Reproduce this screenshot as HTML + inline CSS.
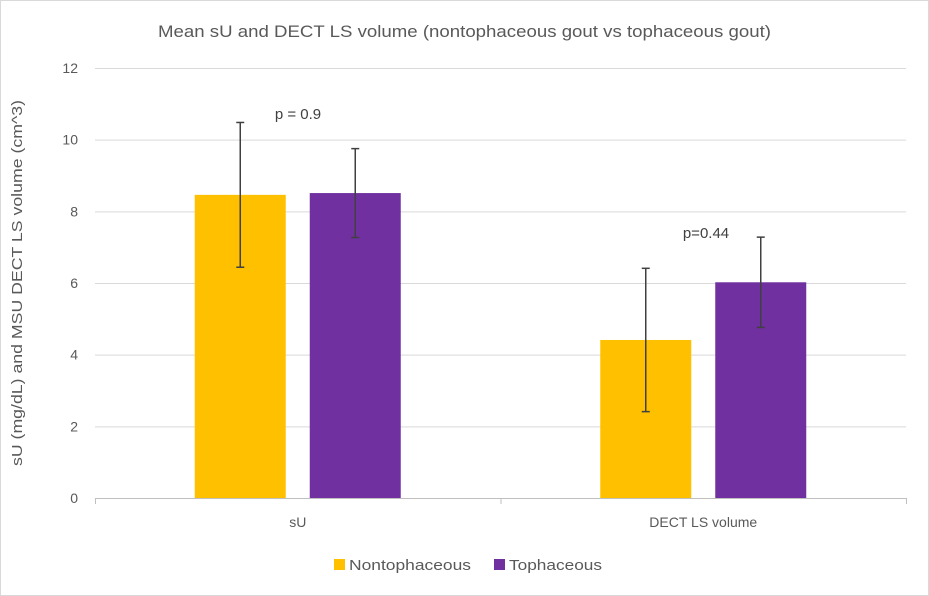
<!DOCTYPE html>
<html><head><meta charset="utf-8"><style>
body{margin:0;background:#fff}
svg{display:block;font-family:"Liberation Sans",sans-serif}
</style></head><body>
<svg id="chart" width="929" height="596" viewBox="0 0 929 596">
<rect x="0.5" y="0.5" width="928" height="595" fill="#fff" stroke="#d9d9d9"/>
<text x="158" y="37" textLength="613" lengthAdjust="spacingAndGlyphs" font-size="17" fill="#595959">Mean sU and DECT LS volume (nontophaceous gout vs tophaceous gout)</text>
<text transform="translate(22,283) rotate(-90)" text-anchor="middle" textLength="366" lengthAdjust="spacingAndGlyphs" font-size="15" fill="#595959">sU (mg/dL) and MSU DECT LS volume (cm^3)</text>
<g id="grid"></g><g id="bars"></g><g id="errs"></g><g id="labels"></g>
<text x="298" y="119" text-anchor="middle" font-size="15" fill="#404040">p = 0.9</text>
<text x="706" y="238" text-anchor="middle" font-size="15" fill="#404040">p=0.44</text>
<g>
<rect x="334" y="559" width="11" height="11" fill="#FFC000"/>
<text x="349" y="570" textLength="122" lengthAdjust="spacingAndGlyphs" font-size="15" fill="#595959">Nontophaceous</text>
<rect x="494" y="559" width="11" height="11" fill="#7030A0"/>
<text x="509" y="570" textLength="93" lengthAdjust="spacingAndGlyphs" font-size="15" fill="#595959">Tophaceous</text>
</g>
</svg>
<script>
const categories=["sU","DECT LS volume"];
const nontophaceous=[8.46,4.41];
const tophaceous=[8.51,6.02];
const nontophErr=[2.02,2.0];
const tophErr=[1.24,1.26];
const yTicks=[0,2,4,6,8,10,12];
const NS="http://www.w3.org/2000/svg";
const x0=95,x1=906,yTop=68,yBot=498,yMax=12;
const y=v=>yBot-(v/yMax)*(yBot-yTop);
const bandW=(x1-x0)/categories.length;
const cx=i=>x0+bandW*(i+0.5);
function mk(t,a,p){const e=document.createElementNS(NS,t);for(const k in a)e.setAttribute(k,a[k]);p.appendChild(e);return e;}
const grid=document.getElementById('grid'),bars=document.getElementById('bars'),errs=document.getElementById('errs'),labels=document.getElementById('labels');
yTicks.forEach(t=>{
 const l=mk('line',{x1:x0,x2:x1,y1:y(t)+0.5,y2:y(t)+0.5,stroke:t===0?'#bfbfbf':'#d9d9d9'},grid);
 
 
 const tx=mk('text',{x:78,y:y(t)+5,'text-anchor':'end','font-size':14,fill:'#595959'},labels);
 tx.textContent=t;
 
 
});
[x0,(x0+x1)/2,x1].forEach((xx,i)=>{
 const l=mk('line',{x1:xx+0.5,x2:xx+0.5,y1:yBot,y2:yBot+6,stroke:'#bfbfbf'},grid);
 
 
});
const bw=91,gap=24;
const series=[[nontophaceous,nontophErr,'#FFC000','nontophaceous'],[tophaceous,tophErr,'#7030A0','tophaceous']];
categories.forEach((c,i)=>{
 series.forEach((s,j)=>{
  const bx=cx(i)-(bw+gap/2)+j*(bw+gap);
  const v=s[0][i],e=s[1][i];
  const r=mk('rect',{x:bx,y:y(v),width:bw,height:yBot-y(v),fill:s[2]},bars);
  
  
  const mx=bx+bw/2;
  const g=mk('g',{stroke:'#404040','stroke-width':1.5},errs);
  
  
  mk('line',{x1:mx,x2:mx,y1:y(v+e),y2:y(v-e)},g);
  mk('line',{x1:mx-4,x2:mx+4,y1:y(v+e),y2:y(v+e)},g);
  mk('line',{x1:mx-4,x2:mx+4,y1:y(v-e),y2:y(v-e)},g);
 });
 const t=mk('text',{x:cx(i),y:527,'text-anchor':'middle','font-size':14,fill:'#595959'},labels);
 t.textContent=c;
 
 
});
</script>
</body></html>
